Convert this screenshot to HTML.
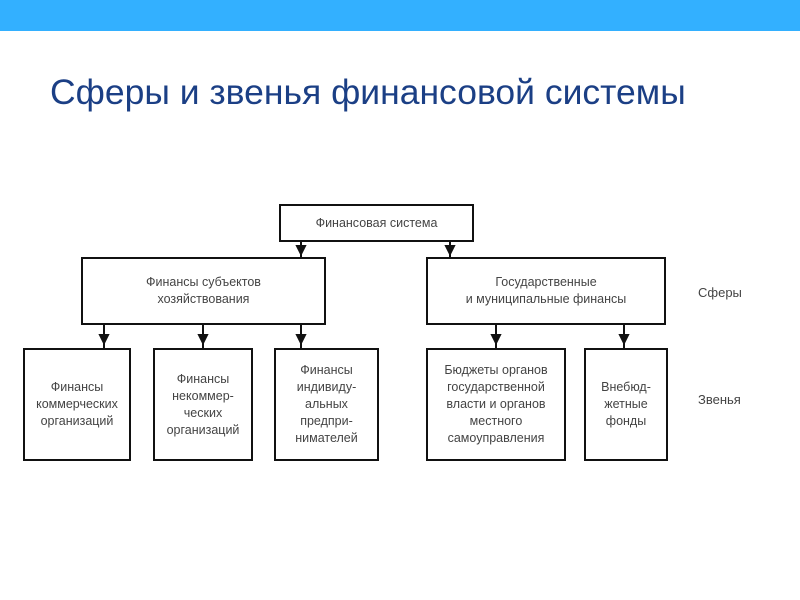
<!DOCTYPE html>
<html><head><meta charset="utf-8"><style>
body{margin:0;width:800px;height:600px;background:#fff;position:relative;overflow:hidden;font-family:"Liberation Sans",sans-serif}
.bar{position:absolute;left:0;top:0;width:800px;height:31px;background:#33b0ff}
h1{position:absolute;left:50px;top:72px;margin:0;font-weight:normal;font-size:35.5px;color:#1b3f85;white-space:nowrap}
.b{position:absolute;border:2px solid #111;box-sizing:border-box;display:flex;align-items:center;justify-content:center;text-align:center;font-size:12.5px;line-height:17px;color:#444}
.l{position:absolute;font-size:13px;color:#444}
</style></head><body>
<div class="bar"></div>
<h1>Сферы и звенья финансовой системы</h1>
<div class="b" style="left:279px;top:204px;width:195px;height:38px">Финансовая система</div>
<div class="b" style="left:81px;top:257px;width:245px;height:68px">Финансы субъектов<br>хозяйствования</div>
<div class="b" style="left:426px;top:257px;width:240px;height:68px">Государственные<br>и муниципальные финансы</div>
<div class="b" style="left:23px;top:348px;width:108px;height:113px">Финансы<br>коммерческих<br>организаций</div>
<div class="b" style="left:153px;top:348px;width:100px;height:113px">Финансы<br>некоммер-<br>ческих<br>организаций</div>
<div class="b" style="left:274px;top:348px;width:105px;height:113px">Финансы<br>индивиду-<br>альных<br>предпри-<br>нимателей</div>
<div class="b" style="left:426px;top:348px;width:140px;height:113px">Бюджеты органов<br>государственной<br>власти и органов<br>местного<br>самоуправления</div>
<div class="b" style="left:584px;top:348px;width:84px;height:113px">Внебюд-<br>жетные<br>фонды</div>
<div class="l" style="left:698px;top:285px">Сферы</div>
<div class="l" style="left:698px;top:392px">Звенья</div>
<svg width="800" height="600" style="position:absolute;left:0;top:0">
<g stroke="#111" stroke-width="2" fill="#111">
<line x1="301" y1="242" x2="301" y2="257"/><polygon points="297,246 305,246 301,254"/>
<line x1="450" y1="242" x2="450" y2="257"/><polygon points="446,246 454,246 450,254"/>
<line x1="104" y1="325" x2="104" y2="348"/><polygon points="100,335 108,335 104,343"/>
<line x1="203" y1="325" x2="203" y2="348"/><polygon points="199,335 207,335 203,343"/>
<line x1="301" y1="325" x2="301" y2="348"/><polygon points="297,335 305,335 301,343"/>
<line x1="496" y1="325" x2="496" y2="348"/><polygon points="492,335 500,335 496,343"/>
<line x1="624" y1="325" x2="624" y2="348"/><polygon points="620,335 628,335 624,343"/>
</g></svg>
</body></html>
